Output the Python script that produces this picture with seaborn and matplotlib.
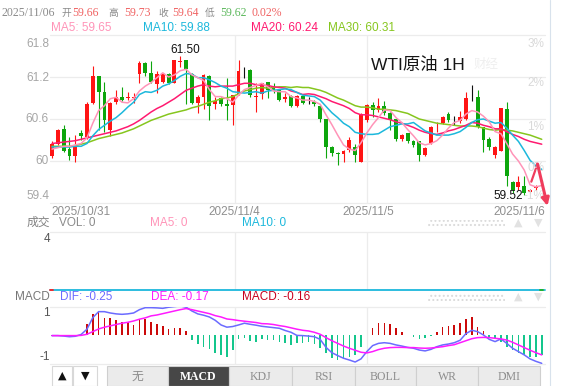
import matplotlib
matplotlib.use("Agg")
import matplotlib.pyplot as plt
from matplotlib.patches import Rectangle
import numpy as np
import seaborn as sns

# ---------------- data ----------------
opens = [60.07, 60.24, 60.45, 60.17, 60.07, 60.40, 60.35, 60.83, 61.21, 60.99,
         60.44, 60.85, 60.92, 60.90, 60.90, 61.25, 61.40, 61.25, 61.10, 61.13,
         61.25, 61.12, 61.41, 61.44, 61.25, 60.83, 60.92, 61.22, 60.81, 60.90,
         60.82, 60.80, 60.96, 61.28, 61.30, 60.92, 60.96, 61.13, 61.06, 61.01,
         60.89, 60.93, 60.79, 60.93, 60.87, 60.85, 60.78, 60.60, 60.20, 60.11,
         60.10, 60.16, 60.20, 59.99, 60.59, 60.80, 60.73, 60.79, 60.69, 60.60,
         60.31, 60.40, 60.28, 60.28, 60.09, 60.26, 60.48, 60.54, 60.67, 60.58,
         60.57, 60.60, 60.91, 60.91, 60.48, 60.32, 60.09, 60.15, 60.75, 59.70,
         59.63, 59.64, 59.56, 59.61, 59.66]
highs = [60.28, 60.46, 60.51, 60.35, 60.37, 60.45, 60.85, 61.36, 61.22, 61.13,
         60.85, 61.02, 61.06, 60.98, 60.97, 61.43, 61.42, 61.43, 61.28, 61.26,
         61.26, 61.44, 61.50, 61.45, 61.26, 60.94, 61.25, 61.23, 60.92, 60.92,
         61.18, 60.95, 61.45, 61.35, 61.31, 61.11, 61.12, 61.13, 61.11, 61.02,
         60.97, 60.94, 60.94, 60.94, 60.91, 60.87, 60.80, 60.60, 60.21, 60.13,
         60.16, 60.35, 60.24, 60.69, 60.82, 60.85, 60.90, 60.86, 60.70, 60.60,
         60.38, 60.40, 60.30, 60.29, 60.20, 60.50, 60.56, 60.64, 60.70, 60.64,
         60.71, 60.99, 61.08, 61.02, 60.49, 60.34, 60.21, 60.76, 60.85, 59.71,
         59.78, 59.78, 59.60, 59.66, 59.73]
lows = [60.05, 60.23, 60.13, 60.01, 59.98, 60.30, 60.32, 60.81, 60.45, 60.42,
        60.36, 60.82, 60.86, 60.87, 60.83, 61.12, 61.21, 61.11, 60.97, 61.12,
        61.10, 61.11, 61.35, 60.82, 60.82, 60.69, 60.75, 60.59, 60.75, 60.78,
        60.59, 60.51, 60.94, 61.18, 60.92, 60.70, 60.88, 60.90, 60.97, 60.86,
        60.85, 60.77, 60.77, 60.82, 60.81, 60.78, 60.56, 60.04, 60.07, 59.94,
        59.99, 60.13, 59.99, 59.99, 60.56, 60.63, 60.70, 60.66, 60.44, 60.29,
        60.29, 60.26, 60.20, 60.00, 60.07, 60.25, 60.42, 60.53, 60.56, 60.51,
        60.54, 60.59, 60.86, 60.47, 60.13, 60.16, 60.04, 60.15, 59.64, 59.55,
        59.59, 59.52, 59.54, 59.58, 59.62]
closes = [60.24, 60.44, 60.15, 60.07, 60.23, 60.36, 60.82, 61.21, 60.98, 60.59,
          60.83, 60.92, 60.87, 60.92, 60.91, 61.40, 61.26, 61.13, 61.25, 61.24,
          61.11, 61.44, 61.43, 61.32, 60.83, 60.92, 61.23, 60.78, 60.86, 60.81,
          60.79, 60.94, 61.29, 61.28, 60.94, 60.93, 61.11, 61.02, 61.01, 60.87,
          60.92, 60.79, 60.93, 60.83, 60.87, 60.81, 60.60, 60.20, 60.12, 60.10,
          60.14, 60.30, 60.09, 60.67, 60.80, 60.73, 60.79, 60.68, 60.59, 60.32,
          60.37, 60.28, 60.23, 60.09, 60.18, 60.48, 60.49, 60.63, 60.59, 60.58,
          60.63, 60.90, 60.91, 60.48, 60.30, 60.20, 60.20, 60.75, 59.78, 59.59,
          59.70, 59.55, 59.58, 59.63, 59.64]
ma5 = [60.17, 60.19, 60.21, 60.21, 60.23, 60.25, 60.33, 60.54, 60.72, 60.79,
       60.89, 60.91, 60.84, 60.83, 60.89, 61.00, 61.07, 61.12, 61.19, 61.26,
       61.20, 61.23, 61.29, 61.31, 61.23, 61.19, 61.15, 61.02, 60.92, 60.92,
       60.89, 60.84, 60.94, 61.02, 61.05, 61.08, 61.11, 61.06, 61.00, 60.99,
       60.99, 60.92, 60.90, 60.87, 60.87, 60.85, 60.81, 60.66, 60.52, 60.37,
       60.23, 60.17, 60.15, 60.26, 60.40, 60.52, 60.62, 60.73, 60.72, 60.62,
       60.55, 60.45, 60.36, 60.26, 60.23, 60.25, 60.29, 60.37, 60.47, 60.55,
       60.58, 60.67, 60.72, 60.70, 60.64, 60.56, 60.42, 60.39, 60.25, 60.10,
       60.00, 59.87, 59.66, 59.63, 59.65]
ma10 = [60.20, 60.20, 60.20, 60.20, 60.21, 60.21, 60.25, 60.36, 60.45, 60.51,
        60.57, 60.62, 60.69, 60.77, 60.84, 60.95, 60.99, 60.98, 61.01, 61.07,
        61.10, 61.15, 61.21, 61.25, 61.24, 61.19, 61.19, 61.16, 61.12, 61.07,
        61.04, 60.99, 60.98, 60.97, 60.98, 60.99, 60.97, 61.00, 61.01, 61.02,
        61.03, 61.02, 60.98, 60.94, 60.93, 60.92, 60.87, 60.78, 60.69, 60.62,
        60.54, 60.49, 60.41, 60.39, 60.38, 60.38, 60.39, 60.44, 60.49, 60.51,
        60.53, 60.53, 60.55, 60.49, 60.43, 60.40, 60.37, 60.37, 60.37, 60.39,
        60.42, 60.48, 60.55, 60.59, 60.60, 60.57, 60.54, 60.55, 60.47, 60.37,
        60.28, 60.15, 60.01, 59.93, 59.88]
ma20 = [60.25, 60.26, 60.27, 60.28, 60.29, 60.31, 60.33, 60.35, 60.37, 60.39,
        60.41, 60.43, 60.46, 60.49, 60.53, 60.58, 60.64, 60.70, 60.75, 60.79,
        60.84, 60.89, 60.95, 61.01, 61.04, 61.07, 61.09, 61.07, 61.06, 61.07,
        61.07, 61.07, 61.09, 61.11, 61.11, 61.09, 61.08, 61.08, 61.06, 61.05,
        61.04, 61.00, 60.98, 60.95, 60.96, 60.95, 60.92, 60.89, 60.85, 60.82,
        60.79, 60.75, 60.69, 60.66, 60.66, 60.65, 60.63, 60.61, 60.59, 60.56,
        60.54, 60.51, 60.48, 60.44, 60.41, 60.39, 60.38, 60.40, 60.43, 60.45,
        60.48, 60.51, 60.55, 60.54, 60.51, 60.49, 60.46, 60.46, 60.42, 60.38,
        60.35, 60.31, 60.28, 60.26, 60.24]
ma30 = [60.21, 60.21, 60.21, 60.21, 60.22, 60.24, 60.26, 60.29, 60.32, 60.34,
        60.36, 60.38, 60.40, 60.43, 60.46, 60.50, 60.54, 60.58, 60.61, 60.64,
        60.67, 60.69, 60.71, 60.73, 60.76, 60.78, 60.81, 60.84, 60.86, 60.89,
        60.90, 60.92, 60.96, 61.00, 61.02, 61.04, 61.05, 61.04, 61.05, 61.06,
        61.06, 61.05, 61.06, 61.05, 61.05, 61.03, 61.01, 60.98, 60.94, 60.90,
        60.87, 60.83, 60.79, 60.77, 60.77, 60.76, 60.74, 60.74, 60.73, 60.72,
        60.70, 60.68, 60.64, 60.60, 60.58, 60.56, 60.54, 60.53, 60.52, 60.51,
        60.50, 60.50, 60.50, 60.49, 60.47, 60.45, 60.44, 60.45, 60.44, 60.43,
        60.41, 60.39, 60.37, 60.34, 60.31]
dif = [-0.03, -0.03, -0.05, -0.08, -0.06, 0.02, 0.26, 0.78, 1.05, 1.05,
       0.99, 0.95, 0.93, 0.95, 0.99, 1.14, 1.23, 1.23, 1.22, 1.20,
       1.25, 1.28, 1.31, 1.25, 1.08, 0.95, 0.89, 0.81, 0.66, 0.45,
       0.35, 0.38, 0.45, 0.53, 0.48, 0.44, 0.39, 0.36, 0.33, 0.30,
       0.20, 0.12, -0.02, -0.03, -0.05, -0.08, -0.20, -0.56, -0.80, -0.93,
       -1.05, -1.13, -1.22, -1.08, -0.75, -0.48, -0.38, -0.35, -0.38, -0.45,
       -0.50, -0.56, -0.60, -0.68, -0.72, -0.65, -0.53, -0.45, -0.41, -0.35,
       -0.24, 0.06, 0.21, 0.15, 0.00, -0.20, -0.30, -0.18, -0.38, -0.60,
       -0.75, -0.90, -1.08, -1.19, -1.28]
dea = [-0.03, -0.03, -0.03, -0.03, -0.03, -0.02, 0.03, 0.15, 0.27, 0.35,
       0.41, 0.47, 0.53, 0.57, 0.63, 0.71, 0.77, 0.86, 0.90, 0.96,
       1.02, 1.08, 1.14, 1.19, 1.14, 1.08, 1.02, 0.96, 0.87, 0.81,
       0.72, 0.69, 0.65, 0.62, 0.59, 0.56, 0.51, 0.50, 0.47, 0.42,
       0.38, 0.32, 0.26, 0.21, 0.18, 0.12, 0.03, -0.12, -0.26, -0.38,
       -0.50, -0.60, -0.69, -0.78, -0.81, -0.75, -0.66, -0.60, -0.57, -0.56,
       -0.56, -0.57, -0.57, -0.59, -0.60, -0.59, -0.56, -0.53, -0.48, -0.44,
       -0.35, -0.26, -0.17, -0.12, -0.11, -0.12, -0.15, -0.18, -0.23, -0.33,
       -0.45, -0.57, -0.69, -0.80, -0.90]
macd_hist = [-0.04, -0.02, 0.00, -0.05, 0.00, 0.06, 0.48, 0.93, 1.05, 0.78,
             0.75, 0.68, 0.60, 0.60, 0.45, 0.72, 0.72, 0.57, 0.48, 0.42,
             0.26, 0.30, 0.33, 0.18, -0.23, -0.42, -0.55, -0.63, -0.83, -0.90,
             -0.98, -0.68, -0.18, -0.15, -0.27, -0.30, -0.20, -0.23, -0.23, -0.30,
             -0.38, -0.45, -0.35, -0.38, -0.30, -0.42, -0.57, -0.83, -1.05, -1.13,
             -1.05, -0.98, -0.90, -0.53, 0.00, 0.30, 0.53, 0.53, 0.48, 0.30,
             0.15, 0.00, -0.08, -0.20, -0.15, -0.03, 0.15, 0.35, 0.42, 0.45,
             0.53, 0.72, 0.83, 0.38, 0.18, -0.08, -0.15, -0.30, -0.53, -0.68,
             -0.83, -0.90, -0.98, -0.98, -0.90]
price_ticks = [61.8, 61.2, 60.6, 60.0, 59.4]
price_tick_labels = ["61.8", "61.2", "60.6", "60", "59.4"]
pct_labels = ["3%", "2%", "1%", "0%", "-1%"]
date_labels = ["2025/10/31", "2025/11/4", "2025/11/5", "2025/11/6"]
macd_ticks = ["1", "-1"]
tabs = ["无", "MACD", "KDJ", "RSI", "BOLL", "WR", "DMI"]

# ---------------- style ----------------
sns.set_theme(style="white")
plt.rcParams['font.family'] = ['Liberation Sans', 'Noto Sans CJK SC', 'DejaVu Sans']
plt.rcParams['hatch.linewidth'] = 0.9
SERIF = ['Liberation Serif', 'Noto Sans CJK SC', 'DejaVu Sans']
CJK = ['Noto Sans CJK SC', 'DejaVu Sans']

RED, GREEN, BLACK = '#ff1414', '#0da60d', '#111111'
C5, C10, C20, C30 = '#ff94b8', '#1cb8dc', '#ff1a70', '#86c61e'
GRID = '#ececec'

W, H = 562, 386
fig = plt.figure(figsize=(W / 100, H / 100), dpi=100)
fig.patch.set_facecolor('white')


def box(x0, y0, x1, y1):
    return [x0 / W, 1 - y1 / H, (x1 - x0) / W, (y1 - y0) / H]


ax_p = fig.add_axes(box(50, 35, 545, 203))
ax_v = fig.add_axes(box(50, 232, 545, 290))
ax_m = fig.add_axes(box(50, 307, 545, 364))

n = len(closes)
idx = np.arange(n)
day_breaks = [31.4, 54.0]
for ax in (ax_p, ax_v, ax_m):
    ax.set_xlim(-0.34, 84.56)
    for s in ax.spines.values():
        s.set_visible(False)
    ax.set_facecolor('none')
    for b in day_breaks:
        ax.axvline(b, color=GRID, lw=0.9, zorder=0)

# ---- price panel ----
ax_p.set_ylim(59.4, 61.8)
for lv in price_ticks:
    ax_p.axhline(lv, color=GRID, lw=0.9, zorder=0, clip_on=False)
o, c, h, l = map(np.array, (opens, closes, highs, lows))
cols = np.where(c > o, RED, np.where(c < o, GREEN, BLACK))
ax_p.vlines(idx, l, h, colors=cols, lw=0.8, zorder=2)
ax_p.bar(idx, np.maximum(np.abs(c - o), 0.008), bottom=np.minimum(o, c),
         width=0.66, color=cols, lw=0, zorder=2)
for vals, col in ((ma30, C30), (ma20, C20), (ma10, C10), (ma5, C5)):
    sns.lineplot(x=idx, y=vals, ax=ax_p, color=col, lw=1.1, zorder=3)

# ---- volume panel ----
ax_v.set_ylim(0, 4.55)
ax_v.axhline(4.55, color=GRID, lw=0.9, zorder=0, clip_on=False)
ax_v.axhline(0, color=C10, lw=1.3, zorder=3, clip_on=False)

# ---- MACD panel ----
ax_m.set_ylim(-1.31, 1.26)
ax_m.axhline(1.26, color=GRID, lw=0.9, zorder=0, clip_on=False)
ax_m.axhline(-1.31, color=GRID, lw=0.9, zorder=0, clip_on=False)
hist = np.array(macd_hist)
ax_m.bar(idx, hist, width=0.27, color=np.where(hist >= 0, '#cc0a0a', '#14c68c'),
         lw=0, zorder=2)
sns.lineplot(x=idx, y=dif, ax=ax_m, color='#6b6bff', lw=1.1, zorder=3)
sns.lineplot(x=idx, y=dea, ax=ax_m, color='#ff1aff', lw=1.1, zorder=3)

for ax in (ax_p, ax_v, ax_m):
    ax.set_xticks([])
    ax.set_yticks([])
    ax.set_xlabel('')
    ax.set_ylabel('')

# ---------------- overlay (texts, controls) ----------------
ov = fig.add_axes([0, 0, 1, 1])
ov.set_xlim(0, W)
ov.set_ylim(H, 0)
ov.axis('off')
ov.patch.set_alpha(0)


def t(x, y, s, color, size=8.5, ha='left', **kw):
    ov.text(x, y, s, color=color, fontsize=size, ha=ha, va='center', **kw)


# header row 1
t(2, 13, "2025/11/06", '#8a8a8a', 8.5, family=SERIF)
for x, s in ((61, "开"), (108, "高"), (158, "收"), (205, "低")):
    t(x, 13, s, '#8a8a8a', 7, family=CJK)
for x, s, col in ((72, "59.66", '#f06262'), (124, "59.73", '#f06262'),
                  (172, "59.64", '#f06262'), (220, "59.62", '#5cb85c'),
                  (251, "0.02%", '#f06262')):
    t(x, 13, s, col, 8.5, family=SERIF)
# header row 2
t(51, 28, "MA5: 59.65", C5, 8.5)
t(143, 28, "MA10: 59.88", C10, 8.5)
t(251, 28, "MA20: 60.24", C20, 8.5)
t(328, 28, "MA30: 60.31", C30, 8.5)

# price tick labels
for ypx, s in zip([44, 77.7, 119.3, 161, 196], price_tick_labels):
    t(49, ypx, s, '#a6a6a6', 8.5, ha='right')
for ypx, s in zip([44, 83, 127, 168, 196], pct_labels):
    t(544, ypx, s, '#d9d9d9', 8.5, ha='right')

# title and faint watermark
t(418, 65, "WTI原油 1H", '#151515', 12.5, ha='center')
t(486, 64, "财经", '#efefef', 9, ha='center', family=CJK)

# extreme labels
t(185, 50, "61.50", '#111111', 8.5, ha='center')
t(508, 196, "59.52", '#111111', 8.5, ha='center')

# dates
t(51, 212, date_labels[0], '#8f8f8f', 8.5)
t(234, 212, date_labels[1], '#8f8f8f', 8.5, ha='center')
t(368, 212, date_labels[2], '#8f8f8f', 8.5, ha='center')
t(545, 212, date_labels[3], '#8f8f8f', 8.5, ha='right')

# volume header
t(50, 223, "成交", '#808080', 8.5, ha='right')
t(59, 223, "VOL: 0", '#8a8a8a', 8.5)
t(150, 223, "MA5: 0", C5, 8.5)
t(242, 223, "MA10: 0", C10, 8.5)
t(50, 239, "4", '#555555', 8.5, ha='right')

# MACD header
t(50, 297, "MACD", '#777777', 8.5, ha='right')
t(60, 297, "DIF: -0.25", '#6b6bff', 8.5)
t(151, 297, "DEA: -0.17", '#ff1aff', 8.5)
t(242, 297, "MACD: -0.16", '#c8001e', 8.5)
t(50, 313, macd_ticks[0], '#555555', 8.5, ha='right')
t(50, 357.5, macd_ticks[1], '#555555', 8.5, ha='right')

# right-side handles
for yy in (223, 297):
    ov.add_patch(Rectangle((428, yy - 3.5), 77, 7, fill=False, hatch='....',
                           edgecolor='#dadada', lw=0))
    t(518, yy, "▲", '#e2e2e2', 8, ha='center', family=['DejaVu Sans'])
    t(538, yy, "▼", '#e2e2e2', 8, ha='center', family=['DejaVu Sans'])

# volume line end ticks
ov.plot([50, 52.5], [290, 290], color='#ff2020', lw=1.3)
ov.plot([540, 543], [290, 290], color='#20b020', lw=1.3)

# right side bar edge
ov.plot([550, 550], [0, H], color='#d8e2ec', lw=0.8)

# trend arrow
ARC = '#f03c5c'
ov.plot([531.3, 537.5], [181.7, 164], color=ARC, lw=1.6, solid_capstyle='round')
ov.annotate('', xy=(547.5, 206), xytext=(537.5, 164),
            arrowprops=dict(arrowstyle='-|>', color=ARC, lw=2.2,
                            mutation_scale=11, shrinkA=0, shrinkB=0))

# bottom control bar
ov.add_patch(Rectangle((52, 366), 20, 20, facecolor='white', edgecolor='#d8d8d8', lw=0.8))
ov.add_patch(Rectangle((73, 366), 24, 20, facecolor='white', edgecolor='#d8d8d8', lw=0.8))
t(62, 376, "▲", '#111111', 8, ha='center', family=['DejaVu Sans'])
t(85, 376, "▼", '#111111', 8, ha='center', family=['DejaVu Sans'])
bounds = [107, 168, 229, 292, 355, 416, 478, 540]
for k, name in enumerate(tabs):
    x0, x1 = bounds[k], bounds[k + 1]
    active = name == "MACD"
    ov.add_patch(Rectangle((x0, 366), x1 - x0, 20,
                           facecolor='#474747' if active else '#ebebeb',
                           edgecolor='#cfcfcf', lw=0.8))
    t((x0 + x1) / 2, 376.5, name, 'white' if active else '#8c8c8c', 8.5,
      ha='center', family=SERIF, fontweight='bold' if active else 'normal')

fig.savefig('out.png', dpi=100)
